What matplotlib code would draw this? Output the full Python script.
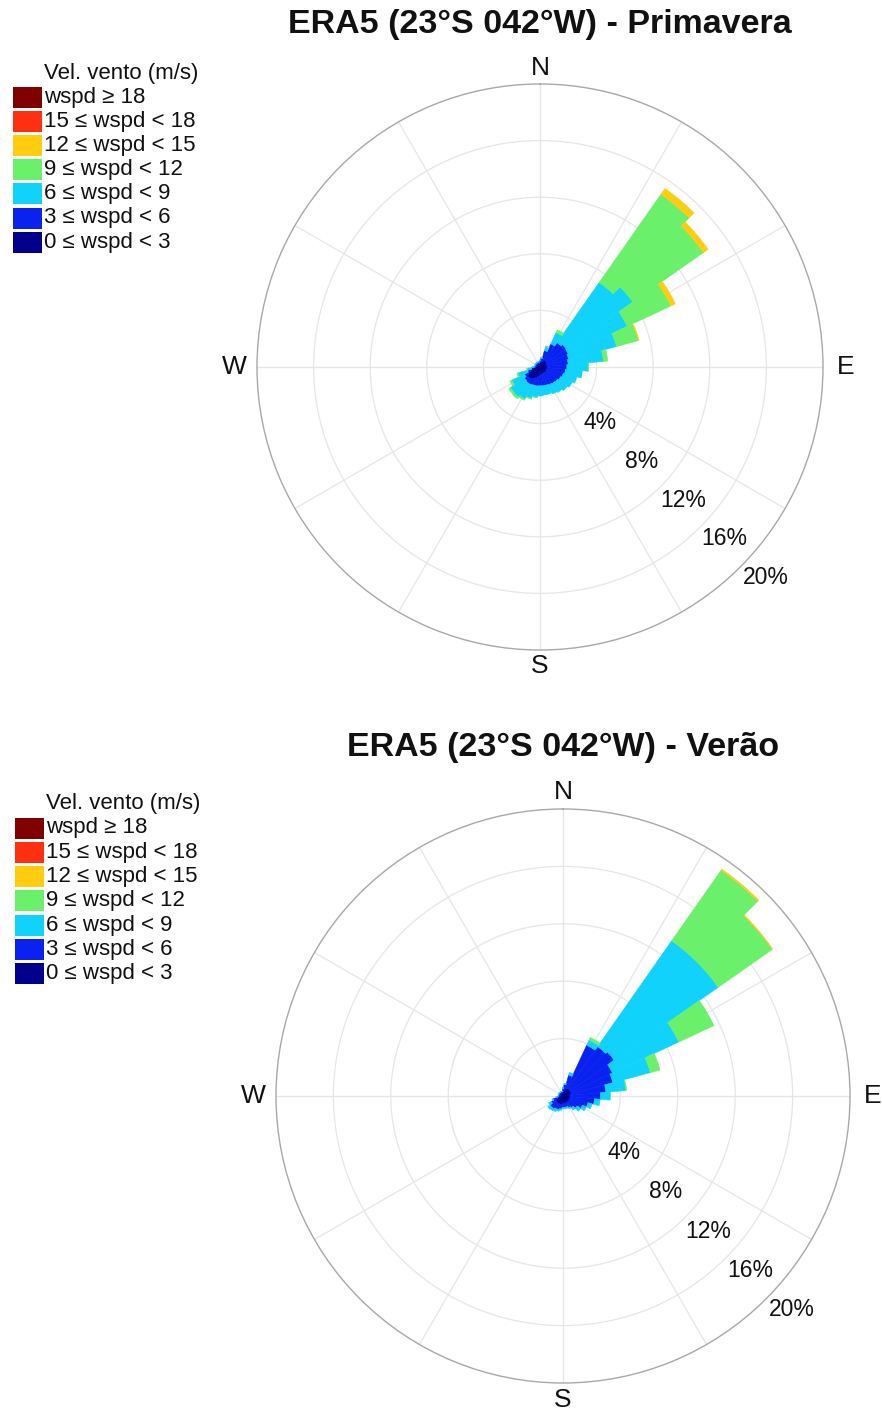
import numpy as np
import matplotlib
matplotlib.use('Agg')
import matplotlib.pyplot as plt
from matplotlib.patches import Rectangle

plt.rcParams['font.family'] = ['Liberation Sans', 'DejaVu Sans']

# ---------------- data ----------------
directions = np.arange(0, 360, 10)          # sector centres (deg, from N, clockwise)
ring_values = [4, 8, 12, 16, 20]
ring_labels = ['4%', '8%', '12%', '16%', '20%']
cardinals = ['N', 'E', 'S', 'W']
cardinal_angles = [0, 90, 180, 270]

class_labels = ['wspd \u2265 18', '15 \u2264 wspd < 18', '12 \u2264 wspd < 15',
                '9 \u2264 wspd < 12', '6 \u2264 wspd < 9', '3 \u2264 wspd < 6',
                '0 \u2264 wspd < 3']
class_colors = ['#800000', '#FF3010', '#FFCC10', '#6AF06A', '#10D2FA', '#0A22F0', '#00008C']

# Primavera (frequency %, per speed class, per direction)
prim_0_3 = [0.30, 0.35, 0.40, 0.50, 0.55, 0.55, 0.50, 0.50, 0.50, 0.50, 0.50, 0.50,
            0.50, 0.50, 0.50, 0.50, 0.50, 0.55, 0.60, 0.70, 0.80, 0.95, 1.05, 1.05,
            0.90, 0.70, 0.45, 0.30, 0.25, 0.25, 0.25, 0.25, 0.25, 0.25, 0.25, 0.25]
prim_3_6 = [0.15, 0.25, 0.80, 1.30, 1.55, 1.70, 1.70, 1.60, 1.50, 1.40, 1.30, 1.20,
            1.10, 1.00, 0.95, 0.90, 0.85, 0.78, 0.73, 0.65, 0.55, 0.45, 0.35, 0.30,
            0.30, 0.20, 0.15, 0.10, 0.10, 0.10, 0.10, 0.10, 0.10, 0.10, 0.10, 0.10]
prim_6_9 = [0.05, 0.10, 0.30, 0.90, 5.20, 5.75, 4.60, 3.50, 2.50, 1.50, 1.20, 1.00,
            0.90, 0.85, 0.75, 0.70, 0.65, 0.67, 0.72, 0.80, 0.95, 1.10, 1.20, 1.20,
            1.00, 0.70, 0.30, 0.15, 0.05, 0.05, 0.05, 0.05, 0.05, 0.05, 0.05, 0.05]
prim_9_12 = [0.00, 0.00, 0.05, 0.20, 7.60, 6.10, 3.40, 1.60, 0.30, 0.05, 0.00, 0.00,
             0.00, 0.00, 0.00, 0.00, 0.00, 0.00, 0.00, 0.02, 0.05, 0.10, 0.15, 0.15,
             0.15, 0.10, 0.05, 0.00, 0.00, 0.00, 0.00, 0.00, 0.00, 0.00, 0.00, 0.00]
prim_12_15 = [0.00, 0.00, 0.00, 0.00, 0.50, 0.40, 0.35, 0.05, 0.00, 0.00, 0.00, 0.00,
              0.00, 0.00, 0.00, 0.00, 0.00, 0.00, 0.00, 0.00, 0.00, 0.00, 0.00, 0.00,
              0.00, 0.00, 0.00, 0.00, 0.00, 0.00, 0.00, 0.00, 0.00, 0.00, 0.00, 0.00]
prim_15_18 = [0.0] * 36
prim_18 = [0.0] * 36

# Verão
ver_0_3 = [0.30, 0.40, 0.50, 0.60, 0.60, 0.60, 0.60, 0.60, 0.50, 0.50, 0.50, 0.50,
           0.50, 0.50, 0.50, 0.50, 0.50, 0.50, 0.50, 0.60, 0.60, 0.60, 0.60, 0.60,
           0.50, 0.40, 0.30, 0.20, 0.20, 0.20, 0.20, 0.20, 0.20, 0.20, 0.20, 0.20]
ver_3_6 = [0.20, 0.40, 1.00, 3.30, 3.60, 3.75, 3.20, 3.00, 2.50, 2.10, 1.70, 1.30,
           1.00, 0.70, 0.50, 0.40, 0.30, 0.30, 0.30, 0.30, 0.40, 0.40, 0.50, 0.50,
           0.40, 0.30, 0.10, 0.10, 0.10, 0.10, 0.10, 0.10, 0.10, 0.10, 0.10, 0.10]
ver_6_9 = [0.10, 0.10, 0.20, 0.40, 9.00, 8.85, 5.10, 2.70, 1.40, 0.70, 0.40, 0.30,
           0.30, 0.30, 0.20, 0.10, 0.10, 0.10, 0.10, 0.10, 0.10, 0.20, 0.15, 0.20,
           0.20, 0.10, 0.10, 0.05, 0.05, 0.05, 0.05, 0.05, 0.05, 0.05, 0.05, 0.05]
ver_9_12 = [0.00, 0.00, 0.00, 0.20, 6.00, 4.60, 2.70, 0.70, 0.05, 0.00, 0.00, 0.00,
            0.00, 0.00, 0.00, 0.00, 0.00, 0.00, 0.00, 0.00, 0.00, 0.00, 0.00, 0.00,
            0.00, 0.00, 0.00, 0.00, 0.00, 0.00, 0.00, 0.00, 0.00, 0.00, 0.00, 0.00]
ver_12_15 = [0.00, 0.00, 0.00, 0.00, 0.10, 0.05, 0.00, 0.00, 0.00, 0.00, 0.00, 0.00,
             0.00, 0.00, 0.00, 0.00, 0.00, 0.00, 0.00, 0.00, 0.00, 0.00, 0.00, 0.00,
             0.00, 0.00, 0.00, 0.00, 0.00, 0.00, 0.00, 0.00, 0.00, 0.00, 0.00, 0.00]
ver_15_18 = [0.0] * 36
ver_18 = [0.0] * 36

titles = ['ERA5 (23\u00b0S 042\u00b0W) - Primavera', 'ERA5 (23\u00b0S 042\u00b0W) - Ver\u00e3o']
legend_title = 'Vel. vento (m/s)'

# ---------------- figure ----------------
W, H = 882, 1413
fig = plt.figure(figsize=(W / 100, H / 100), dpi=100)
fig.patch.set_facecolor('white')


def px(x, y):
    return x / W, 1 - y / H


def rose(center, R, classes, title, leg):
    cx, cy = center
    ax = fig.add_axes([(cx - R) / W, (H - cy - R) / H, 2 * R / W, 2 * R / H],
                      projection='polar')
    ax.set_theta_zero_location('N')
    ax.set_theta_direction(-1)
    ax.set_axisbelow(True)
    theta = np.deg2rad(directions)
    bottom = np.zeros(len(directions))
    # classes ordered slow -> fast, colours reversed list
    for vals, col in zip(classes, class_colors[::-1]):
        vals = np.asarray(vals, dtype=float)
        m = vals > 0
        if m.any():
            ax.bar(theta[m], vals[m], width=np.deg2rad(10), bottom=bottom[m], color=col,
                   edgecolor=col, linewidth=0.4, zorder=3)
        bottom = bottom + vals
    ax.set_ylim(0, 20)
    ax.set_yticks(ring_values[:-1])
    ax.set_yticklabels([])
    ax.set_xticks(np.deg2rad(np.arange(0, 360, 30)))
    ax.set_xticklabels([])
    ax.grid(True, color='#e6e6e6', linewidth=0.9)
    ax.spines['polar'].set_color('#a8a8a8')
    ax.spines['polar'].set_linewidth(1.0)
    ax.tick_params(length=0)
    for lab, ang in zip(cardinals, cardinal_angles):
        r = 21.15 if ang in (0, 180) else 21.6
        ax.text(np.deg2rad(ang), r, lab, ha='center', va='center', fontsize=19,
                color='#111111', clip_on=False)
    for rv, lab in zip(ring_values, ring_labels):
        ax.text(np.deg2rad(133), rv + 1.8, lab, ha='center', va='center',
                fontsize=16.5, color='#111111', clip_on=False, zorder=5)
    tx, ty = px(cx, leg['title_y_main'])
    fig.text(tx, ty, title, ha='center', va='center', fontsize=24.5,
             fontweight='bold', color='#111111')
    # legend (drawn manually)
    lx, ly = px(leg['text_x'], leg['title_y'])
    fig.text(lx, ly, legend_title, ha='left', va='center', fontsize=16, color='#111111')
    for i, (lab, col) in enumerate(zip(class_labels, class_colors)):
        yc = leg['first_y'] + i * leg['dy']
        x0, y0 = px(leg['sq_x'], yc + 10.5)
        fig.add_artist(Rectangle((x0, y0), 29 / W, 21 / H, transform=fig.transFigure,
                                 facecolor=col, edgecolor='none'))
        tx2, ty2 = px(leg['text_x'], yc)
        fig.text(tx2, ty2, lab, ha='left', va='center', fontsize=16, color='#111111')
    return ax


rose((540, 367), 283,
     [prim_0_3, prim_3_6, prim_6_9, prim_9_12, prim_12_15, prim_15_18, prim_18],
     titles[0],
     dict(title_y_main=25, title_y=73, first_y=97, dy=24.2, sq_x=13, text_x=44))
rose((563, 1096), 287,
     [ver_0_3, ver_3_6, ver_6_9, ver_9_12, ver_12_15, ver_15_18, ver_18],
     titles[1],
     dict(title_y_main=748, title_y=803, first_y=828, dy=24.3, sq_x=15, text_x=46))

fig.savefig('out.png', dpi=100, facecolor='white')
